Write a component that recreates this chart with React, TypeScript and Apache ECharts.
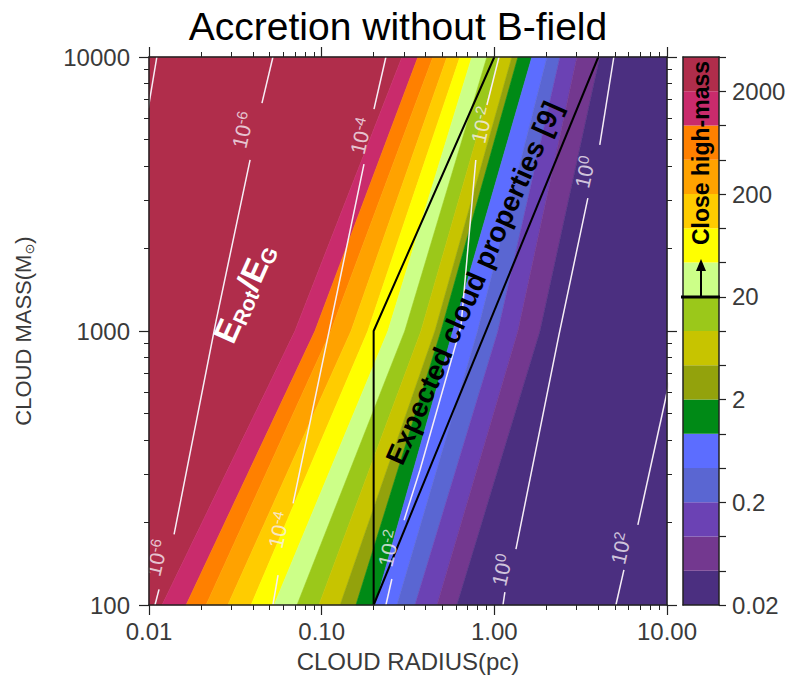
import React, { useEffect, useRef } from 'react';
import * as echarts from 'echarts';

// ---- tick labels ----
const radiusTicks = ['0.01', '0.10', '1.00', '10.00'];
const massTicks = ['100', '1000', '10000'];
const colorbarTicks = ['0.02', '0.2', '2', '20', '200', '2000'];

// ---- colour levels, lowest (0.02) to highest ----
const bandColors = [
  '#4b2f80', '#73388f', '#6b42b4', '#5a66d2', '#5c6dff', '#008a16', '#93a20c', '#c7c400',
  '#9bc81a', '#ccff88', '#ffff00', '#ffcc00', '#ffa200', '#ff8000', '#c92b6c', '#b02d4b',
];

// ---- filled-contour band edges: cloud radius (pc) of each edge, left to right ----
const edgeMasses = [100, 1000, 10000];
const edgeRadiusAtM100 = [0.0119, 0.0164, 0.0214, 0.0286, 0.039, 0.053, 0.072, 0.0964, 0.128, 0.158, 0.204, 0.273, 0.347, 0.466, 0.607];
const edgeRadiusAtM1000 = [0.07, 0.0914, 0.113, 0.148, 0.185, 0.242, 0.303, 0.376, 0.453, 0.491, 0.575, 0.8, 1.05, 1.37, 1.84];
const edgeRadiusAtM10000 = [0.292, 0.361, 0.441, 0.532, 0.632, 0.741, 0.906, 1.077, 1.264, 1.37, 1.65, 2.02, 2.4, 3.01, 4.08];

// ---- E_rot/E_G contour lines (segments of [radius, mass]) ----
const contourM8 = [[[0.0111, 10000], [0.0099, 6500]]];
const contourM6 = [
  [[0.0522, 10000], [0.0451, 6790]],
  [[0.0385, 4210], [0.0244, 1080], [0.01397, 181]],
  [[0.01143, 114], [0.01083, 100]],
];
const contourM4 = [
  [[0.2355, 10000], [0.2009, 6457]],
  [[0.1758, 4064], [0.1133, 1080], [0.0683, 235]],
  [[0.0559, 128.6], [0.0522, 100]],
];
const contourM2 = [
  [[1.064, 10000], [0.906, 6683]],
  [[0.781, 4210], [0.641, 1043], [0.371, 311], [0.3, 204]],
  [[0.255, 124.4], [0.2355, 100]],
];
const contour0 = [
  [[4.92, 10000], [4.08, 4775]],
  [[3.48, 3055], [2.366, 966], [1.334, 160]],
  [[1.151, 111.5], [1.122, 100]],
];
const contourP2 = [
  [[10.3, 650], [6.78, 196]],
  [[5.63, 134.3], [5.06, 100]],
];
// label positions [radius, mass, exponent]
const contourLabels: [number, number, string][] = [
  [0.035, 5420, '-6'], [0.0111, 148.6, '-6'],
  [0.169, 5150, '-4'], [0.0566, 188, '-4'],
  [0.847, 5650, '-2'], [0.245, 161, '-2'],
  [3.35, 3800, '0'], [1.107, 134, '0'],
  [5.41, 161, '2'],
];

// ---- expected cloud properties region boundaries ----
const expectedLeftEdge = [[0.2, 100], [0.2, 1000], [1.0, 10000]];
const expectedRightEdge = [[0.2, 100], [4.0, 10000]];

const FONT = 'Liberation Sans, Arial, sans-serif';
const AXIS = '#222';
const TXT = '#3a3a3a';
const LINE_WHITE = '#f6eef6';

function buildOption() {
  const edges = [edgeRadiusAtM100, edgeRadiusAtM1000, edgeRadiusAtM10000];
  const nBands = bandColors.length;

  const contourSeries: any[] = [];
  [contourM8, contourM6, contourM4, contourM2, contour0, contourP2].forEach((segs) => {
    segs.forEach((seg) => {
      contourSeries.push({
        type: 'line',
        xAxisIndex: 0,
        yAxisIndex: 0,
        data: seg,
        showSymbol: false,
        symbol: 'none',
        silent: true,
        clip: true,
        z: 4,
        lineStyle: { color: LINE_WHITE, width: 1.5 },
      });
    });
  });

  const cbSeries = bandColors.map((c) => ({
    type: 'bar',
    xAxisIndex: 2,
    yAxisIndex: 2,
    stack: 'cb',
    data: [1],
    barWidth: '100%',
    silent: true,
    itemStyle: { color: c },
  }));

  const logTick = (len: number) => ({ show: true, inside: false, length: len, lineStyle: { color: AXIS, width: 1.2 } });
  const minor = { show: true, splitNumber: 9, length: 5, lineStyle: { color: AXIS, width: 1 } };
  const axisLineStyle = { show: true, onZero: false, lineStyle: { color: AXIS, width: 1.5 } };

  return {
    animation: false,
    backgroundColor: '#ffffff',
    title: {
      text: 'Accretion without B-field',
      left: 'center',
      top: 2,
      textStyle: { fontFamily: FONT, fontSize: 39, fontWeight: 'normal', color: '#000' },
    },
    grid: [
      { left: 149, top: 57, width: 518, height: 548 },
      { left: 683, top: 57, width: 36, height: 548 },
    ],
    xAxis: [
      {
        type: 'log', gridIndex: 0, logBase: 10, min: 0.01, max: 10, position: 'bottom', z: 6,
        axisLine: axisLineStyle, axisTick: logTick(10), minorTick: minor,
        splitLine: { show: false }, minorSplitLine: { show: false },
        axisLabel: {
          fontFamily: FONT, fontSize: 24, color: TXT, margin: 14,
          formatter: (v: number) => radiusTicks[Math.round(Math.log10(v)) + 2] ?? '',
        },
        name: 'CLOUD RADIUS(pc)', nameLocation: 'middle', nameGap: 44,
        nameTextStyle: { fontFamily: FONT, fontSize: 24, color: TXT },
      },
      {
        type: 'log', gridIndex: 0, logBase: 10, min: 0.01, max: 10, position: 'top', z: 6,
        axisLine: axisLineStyle, axisTick: logTick(10), minorTick: minor,
        splitLine: { show: false }, minorSplitLine: { show: false }, axisLabel: { show: false },
      },
      {
        type: 'category', gridIndex: 1, data: ['cb'], position: 'bottom', z: 6,
        axisLine: axisLineStyle, axisTick: { show: false }, axisLabel: { show: false },
      },
      {
        type: 'category', gridIndex: 1, data: ['cb'], position: 'top', z: 6,
        axisLine: axisLineStyle, axisTick: { show: false }, axisLabel: { show: false },
      },
    ],
    yAxis: [
      {
        type: 'log', gridIndex: 0, logBase: 10, min: 100, max: 10000, position: 'left', z: 6,
        axisLine: axisLineStyle, axisTick: logTick(10), minorTick: minor,
        splitLine: { show: false }, minorSplitLine: { show: false },
        axisLabel: {
          fontFamily: FONT, fontSize: 24, color: TXT, margin: 19,
          formatter: (v: number) => massTicks[Math.round(Math.log10(v)) - 2] ?? '',
        },
        name: '{a|CLOUD MASS(M}{b|⊙}{a|)}', nameLocation: 'middle', nameGap: 113, nameRotate: 90,
        nameTextStyle: {
          fontFamily: FONT, fontSize: 22, color: TXT,
          rich: {
            a: { fontFamily: FONT, fontSize: 22, color: TXT, lineHeight: 26 },
            b: { fontFamily: 'DejaVu Sans', fontSize: 13, color: TXT, verticalAlign: 'bottom', lineHeight: 18 },
          },
        },
      },
      {
        type: 'log', gridIndex: 0, logBase: 10, min: 100, max: 10000, position: 'right', z: 6,
        axisLine: axisLineStyle, axisTick: logTick(10), minorTick: minor,
        splitLine: { show: false }, minorSplitLine: { show: false }, axisLabel: { show: false },
      },
      {
        type: 'value', gridIndex: 1, min: 0, max: 16, interval: 1, position: 'right', z: 6,
        axisLine: axisLineStyle,
        axisTick: { show: true, inside: false, length: 7, lineStyle: { color: AXIS, width: 1.2 } },
        splitLine: { show: false },
        axisLabel: {
          fontFamily: FONT, fontSize: 24, color: TXT, margin: 13,
          formatter: (v: number) => (Math.round(v) % 3 === 0 ? colorbarTicks[Math.round(v) / 3] ?? '' : ''),
        },
      },
      {
        type: 'value', gridIndex: 1, min: 0, max: 16, interval: 1, position: 'left', z: 6,
        axisLine: axisLineStyle, axisTick: { show: false }, splitLine: { show: false }, axisLabel: { show: false },
      },
    ],
    series: [
      {
        type: 'custom',
        xAxisIndex: 0,
        yAxisIndex: 0,
        silent: true,
        z: 1,
        encode: { x: 0, y: 1 },
        data: bandColors.map((_, k) => [1, 1000, k]),
        renderItem: (_params: any, api: any) => {
          const k = api.value(2);
          const left = k === 0 ? [0.01, 0.01, 0.01] : edges.map((e) => e[k - 1]);
          const right = k === nBands - 1 ? [10, 10, 10] : edges.map((e) => e[k]);
          const pts: number[][] = [];
          for (let i = 0; i < 3; i++) pts.push(api.coord([left[i], edgeMasses[i]]));
          for (let i = 2; i >= 0; i--) pts.push(api.coord([right[i], edgeMasses[i]]));
          const color = bandColors[nBands - 1 - k];
          return { type: 'polygon', shape: { points: pts }, style: { fill: color, stroke: color, lineWidth: 0.6 } };
        },
      },
      ...contourSeries,
      {
        type: 'scatter',
        xAxisIndex: 0,
        yAxisIndex: 0,
        symbolSize: 0,
        silent: true,
        z: 5,
        data: contourLabels.map((d) => ({ value: [d[0], d[1]], exp: d[2] })),
        label: {
          show: true,
          position: 'inside',
          rotate: 77,
          formatter: (p: any) => `{b|10}{s|${p.data.exp}}`,
          rich: {
            b: { fontFamily: FONT, fontSize: 21, color: LINE_WHITE, lineHeight: 24 },
            s: { fontFamily: FONT, fontSize: 15, color: LINE_WHITE, lineHeight: 14, verticalAlign: 'top' },
          },
        },
      },
      {
        type: 'line', xAxisIndex: 0, yAxisIndex: 0, data: expectedLeftEdge, showSymbol: false, symbol: 'none',
        silent: true, z: 4, lineStyle: { color: '#000', width: 2 },
      },
      {
        type: 'line', xAxisIndex: 0, yAxisIndex: 0, data: expectedRightEdge, showSymbol: false, symbol: 'none',
        silent: true, z: 4, lineStyle: { color: '#000', width: 2 },
      },
      ...cbSeries,
    ],
    graphic: [
      {
        type: 'text', x: 244, y: 293, rotation: (66 * Math.PI) / 180, z: 20,
        style: {
          text: '{e|E}{s|Rot}{e|/E}{s|G}',
          align: 'center', verticalAlign: 'middle',
          rich: {
            e: { fontFamily: FONT, fontSize: 33, fontWeight: 'bold', fill: '#fff', lineHeight: 36 },
            s: { fontFamily: FONT, fontSize: 21, fontWeight: 'bold', fill: '#fff', lineHeight: 26, verticalAlign: 'bottom' },
          },
        },
      },
      {
        type: 'text', x: 474, y: 283, rotation: (66 * Math.PI) / 180, z: 20,
        style: {
          text: 'Expected cloud properties [9]',
          fontFamily: FONT, fontSize: 28, fontWeight: 'bold', fill: '#000',
          align: 'center', verticalAlign: 'middle',
        },
      },
      {
        type: 'text', x: 701, y: 153, rotation: Math.PI / 2, z: 20,
        style: {
          text: 'Close high-mass',
          fontFamily: FONT, fontSize: 23, fontWeight: 'bold', fill: '#000',
          align: 'center', verticalAlign: 'middle',
        },
      },
      { type: 'line', z: 20, shape: { x1: 681, y1: 297, x2: 720, y2: 297 }, style: { stroke: '#000', lineWidth: 3 } },
      { type: 'line', z: 20, shape: { x1: 701, y1: 297, x2: 701, y2: 270 }, style: { stroke: '#000', lineWidth: 2 } },
      { type: 'polygon', z: 20, shape: { points: [[701, 259], [696, 271], [706, 271]] }, style: { fill: '#000' } },
    ],
  };
}

export default function App() {
  const ref = useRef<HTMLDivElement>(null);
  useEffect(() => {
    if (!ref.current) return;
    const chart = echarts.init(ref.current, null, { renderer: 'svg' });
    chart.setOption(buildOption() as any);
    return () => chart.dispose();
  }, []);
  return (
    <div
      ref={ref}
      style={{ position: 'fixed', left: 0, top: 0, width: 796, height: 685, background: '#fff' }}
    />
  );
}
